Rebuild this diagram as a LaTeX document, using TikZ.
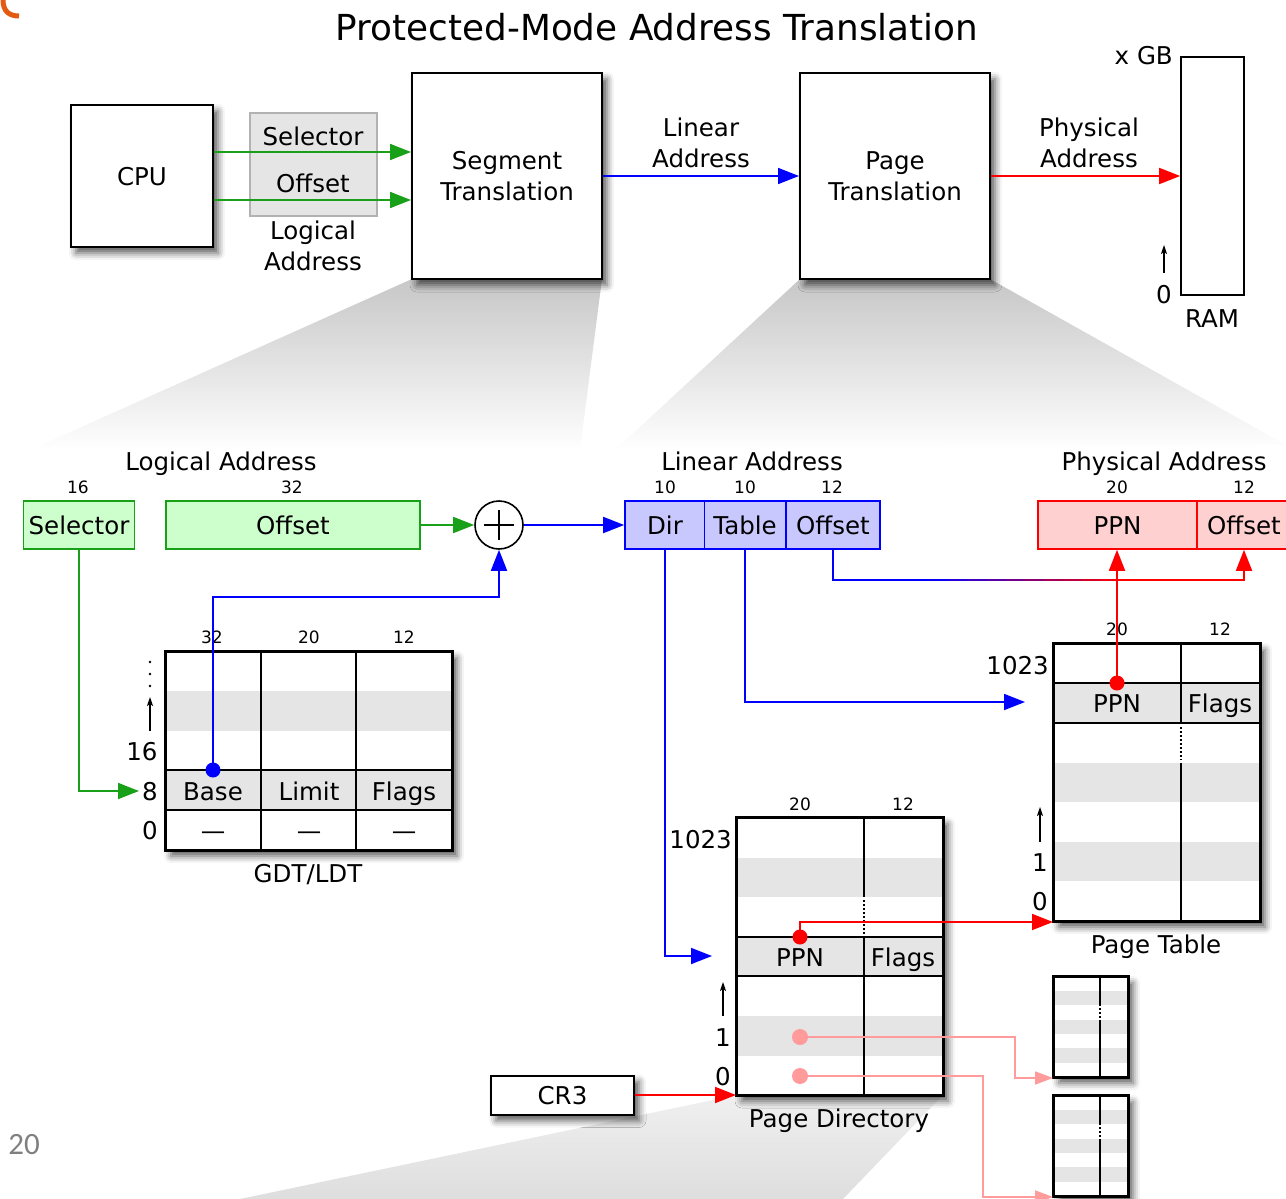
\documentclass[tikz,border=0pt]{standalone}
\usepackage{fontspec}
\setmainfont{DejaVu Sans}
\newfontfamily\pgnumfont{Carlito}
\usetikzlibrary{arrows.meta,shadows.blur}
\definecolor{grn}{RGB}{25,160,25}
\definecolor{gfill}{RGB}{204,255,204}
\definecolor{bfill}{RGB}{200,200,255}
\definecolor{rfill}{RGB}{255,208,208}
\definecolor{pinkc}{RGB}{255,155,155}
\definecolor{band}{RGB}{229,229,229}
\definecolor{orng}{RGB}{228,90,16}
\begin{document}
\begin{tikzpicture}[x=1pt,y=-1pt,
  big/.style={font=\fontsize{24.5}{31}\selectfont, inner sep=0pt},
  one/.style={text height=18pt, text depth=0pt},
  small/.style={font=\fontsize{17}{20}\selectfont, inner sep=0pt, text height=12.4pt, text depth=0pt},
  shad/.style={blur shadow={shadow xshift=5pt, shadow yshift=-6pt, shadow blur radius=7pt, shadow opacity=65}},
  mbox/.style={draw=black, line width=2pt, fill=white, shad, big, align=center},
  arr/.style={line width=1.8pt, -{Triangle[length=21pt,width=16pt]}},
  sarr/.style={line width=1.8pt, -{Triangle[length=18pt,width=13pt]}},
  idx/.style={line width=1.3pt, -{Stealth[length=9pt,width=6pt,inset=2pt]}},
  field/.style={line width=1.6pt, minimum height=48pt, big, one},
  tline/.style={line width=2pt},
  dline/.style={line width=1.4pt, dash pattern=on 1.5pt off 2.5pt},
]
\useasboundingbox (0,0) rectangle (1286,1199);
% ---------- zoom funnels ----------
\shade[top color=black!22, bottom color=white] (412,279) -- (602,279) -- (580,450) -- (30,450) -- cycle;
\shade[top color=black!22, bottom color=white] (800,279) -- (990,279) -- (1286,445) -- (615,450) -- cycle;
\shade[top color=black!6, bottom color=black!13] (737,1095) -- (942,1096) -- (843,1199) -- (240,1199) -- cycle;
% ---------- slide remnants ----------
\draw[orng, line width=5pt] (3,0) .. controls (3,12) and (10,16) .. (19,16);
\node[font=\pgnumfont\fontsize{31}{36}\selectfont, text=black!50, inner sep=0pt] (pnum) at (24,1145) {20};
% ---------- top row ----------
\node[font=\fontsize{35.8}{40}\selectfont, inner sep=0pt] (title) at (657,27) {Protected-Mode Address Translation};
\node[mbox, one, minimum width=142pt, minimum height=142pt] (cpu) at (142,176) {CPU};
\node[draw=black!30, fill=band, line width=1.5pt, minimum width=127pt, minimum height=103pt] (labox) at (313.5,164.5) {};
\node[big, one] (lsel) at (313,136) {Selector};
\node[big, one] (loff) at (313,183) {Offset};
\node[big, align=center] (llog) at (313,246) {Logical\\Address};
\node[mbox, minimum width=190pt, minimum height=206pt] (seg) at (507,176) {Segment\\Translation};
\node[mbox, minimum width=190pt, minimum height=206pt] (pgt) at (895,176) {Page\\Translation};
\node[draw, line width=1.6pt, minimum width=63pt, minimum height=238pt] (ram) at (1212.5,176) {};
\draw[arr, grn] (cpu.east |- 0,152) -- (seg.west |- 0,152);
\draw[arr, grn] (cpu.east |- 0,200) -- (seg.west |- 0,200);
\draw[arr, blue] (seg.east) -- (pgt.west);
\draw[arr, red] (pgt.east) -- (ram.west);
\node[big, align=center] (linlab) at (701,143) {Linear\\Address};
\node[big, align=center] (phylab) at (1089,143) {Physical\\Address};
\node[big, one, anchor=east] (xgb) at (1173,56) {x GB};
\node[big, one] (ram0) at (1164,294) {0};
\draw[idx] (ram0.north |- 0,273) -- (ram0.north |- 0,245);
\node[big, one] (ramlab) at (1212,318) {RAM};
% ---------- address fields ----------
\node[big, one] (lalab) at (221,461) {Logical Address};
\node[small] (s16) at (78,487) {16};
\node[small] (s32) at (292,487) {32};
\node[field, draw=grn, fill=gfill, minimum width=111pt] (sel) at (79,525) {Selector};
\node[field, draw=grn, fill=gfill, minimum width=254pt] (off) at (293,525) {Offset};
\node[circle, draw, line width=1.6pt, minimum size=48pt, fill=white] (plus) at (499,525) {};
\draw[line width=1.3pt] (plus.center) +(-15,0) -- +(15,0) (plus.center) +(0,-15) -- +(0,15);

\node[big, one] (linlab2) at (752,461) {Linear Address};
\node[small] (s10a) at (665,487) {10};
\node[small] (s10b) at (745,487) {10};
\node[small] (s12a) at (832,487) {12};
\node[field, draw=blue, fill=bfill, minimum width=80pt] (dir) at (665,525) {Dir};
\node[field, draw=blue, fill=bfill, minimum width=81pt] (tab) at (745,525) {Table};
\node[field, draw=blue, fill=bfill, minimum width=94pt] (loffs) at (833,525) {Offset};

\node[big, one] (phylab2) at (1164,461) {Physical Address};
\node[small] (s20a) at (1117,487) {20};
\node[small] (s12b) at (1244,487) {12};
\node[field, draw=red, fill=rfill, minimum width=159pt] (ppn) at (1117.5,525) {PPN};
\node[field, draw=red, fill=rfill, minimum width=94pt] (poff) at (1244,525) {Offset};

\draw[arr, grn] (off.east) -- (plus.west);
\draw[arr, blue] (plus.east) -- (dir.west);

% ---------- GDT/LDT ----------
\node[draw, line width=2pt, fill=white, shad, minimum width=286pt, minimum height=198pt] (gdt) at (309,751) {};
\fill[band] (167,691) rectangle (451,731);
\fill[band] (167,770) rectangle (451,810);
\draw[tline] (261,652) -- (261,850) (356,652) -- (356,850) (166,770) -- (452,770) (166,810) -- (452,810);
\draw[tline] (gdt.north west) rectangle (gdt.south east);
\node[small] (g32) at (212,637) {32};
\node[small] (g20) at (309,637) {20};
\node[small] (g12) at (404,637) {12};
\node[big, one] (gbase) at (213,791) {Base};
\node[big, one] (glim) at (309,791) {Limit};
\node[big, one] (gflag) at (404,791) {Flags};
\node[big, one] (gd1) at (213,830) {—};
\node[big, one] (gd2) at (309,830) {—};
\node[big, one] (gd3) at (404,830) {—};
\fill (150,662) circle (1.3pt) (150,674) circle (1.3pt) (150,686) circle (1.3pt);
\node[big, one] (g16) at (142,751) {16};
\node[big, one] (g8) at (150,791) {8};
\node[big, one] (g0) at (150,830) {0};
\draw[idx] (g8.north |- 0,731) -- (g8.north |- 0,697);
\node[big, one] (gdtlab) at (308,873) {GDT/LDT};
\draw[arr, grn, shorten >=3pt] (sel.south) |- (g8.west);
\coordinate (bdot) at (213,770);
\draw[arr, blue] (bdot) -- (bdot |- 0,597) -| (plus.south);
\fill[blue] (bdot) circle (7.5pt);

% ---------- Page Table ----------
\node[draw, line width=2pt, fill=white, shad, minimum width=206pt, minimum height=277pt] (pt) at (1157,782.5) {};
\fill[band] (1055,683) rectangle (1259,723);
\fill[band] (1055,763) rectangle (1259,802);
\fill[band] (1055,842) rectangle (1259,881);
\draw[tline] (1054,683) -- (1260,683) (1054,723) -- (1260,723) (1181,644) -- (1181,723) (1181,763) -- (1181,921);
\draw[dline] (1181,727) -- (1181,760);
\draw[tline] (pt.north west) rectangle (pt.south east);
\node[small] (p20) at (1117,629) {20};
\node[small] (p12) at (1220,629) {12};
\node[big, one] (pppn) at (1117,703) {PPN};
\node[big, one] (pflag) at (1220,703) {Flags};
\node[big, one, anchor=east] (p1023) at (1049,665) {1023};
\node[big, one] (p1) at (1040,862) {1};
\node[big, one] (p0) at (1040,901) {0};
\draw[idx] (p1.north |- 0,842) -- (p1.north |- 0,807);
\node[big, one] (ptlab) at (1156,944) {Page Table};

% ---------- Page Directory ----------
\node[draw, line width=2pt, fill=white, shad, minimum width=206pt, minimum height=277pt] (pd) at (840,956.5) {};
\fill[band] (738,858) rectangle (942,897);
\fill[band] (738,937) rectangle (942,976);
\fill[band] (738,1016) rectangle (942,1056);
\draw[tline] (737,937) -- (943,937) (737,976) -- (943,976) (864,818) -- (864,897) (864,937) -- (864,1095);
\draw[dline] (864,900) -- (864,934);
\draw[tline] (pd.north west) rectangle (pd.south east);
\node[small] (d20) at (800,804) {20};
\node[small] (d12) at (903,804) {12};
\node[big, one] (dppn) at (800,957) {PPN};
\node[big, one] (dflag) at (903,957) {Flags};
\node[big, one, anchor=east] (d1023) at (732,839) {1023};
\node[big, one] (d1) at (723,1037) {1};
\node[big, one] (d0) at (723,1076) {0};
\draw[idx] (d1.north |- 0,1016) -- (d1.north |- 0,982);
\node[big, one] (pdlab) at (839,1118) {Page Directory};

% ---------- small page tables ----------
\foreach \n/\o in {st1/0, st2/119} {
  \node[draw, line width=2pt, fill=white, shad, minimum width=74pt, minimum height=100pt] (\n) at (1091,1027+\o) {};
  \fill[band] (1055,991+\o) rectangle (1127,1005+\o);
  \fill[band] (1055,1020+\o) rectangle (1127,1034+\o);
  \fill[band] (1055,1048+\o) rectangle (1127,1063+\o);
  \draw[tline] (1100,977+\o) -- (1100,1006+\o) (1100,1020+\o) -- (1100,1077+\o);
  \draw[dline] (1100,1008+\o) -- (1100,1018+\o);
  \draw[tline] (\n.north west) rectangle (\n.south east);
}

% ---------- CR3 ----------
\node[mbox, one, minimum width=143pt, minimum height=39pt] (cr3) at (562.5,1095) {CR3};
\draw[arr, red] (cr3.east) -- (cr3.east -| pd.south west);

% ---------- connectors of the paging walk ----------
\coordinate (pdin) at (712,956);
\coordinate (ptin) at (1025,702);
\draw[arr, blue] (dir.south) |- (pdin);
\draw[arr, blue] (tab.south) |- (ptin);
\coordinate (oc) at (loffs.south |- 0,580);
\draw[line width=1.8pt, blue] (loffs.south) -- (oc) -- (931,580);
\foreach \i in {0,...,9} {
  \pgfmathsetmacro\p{(\i+0.5)*10}
  \draw[line width=1.8pt, red!\p!blue] ({930+19*\i},580) -- ({950+19*\i},580);
}
\draw[arr, red] (1119,580) -| (poff.south);

\coordinate (pddot) at (800,937);
\draw[arr, red] (pddot) |- (pt.south west);
\fill[red] (pddot) circle (7.5pt);
\coordinate (ptdot) at (1117,683);
\draw[arr, red] (ptdot) -- (ptdot |- ppn.south);
\fill[red] (ptdot) circle (7.5pt);

\coordinate (pk1) at (800,1037);
\coordinate (pk2) at (800,1076);
\draw[sarr, pinkc] (pk1) -- (1015,1037) |- (st1.south west);
\draw[sarr, pinkc] (pk2) -- (983,1076) |- (st2.south west);
\fill[pinkc] (pk1) circle (8pt);
\fill[pinkc] (pk2) circle (8pt);
\end{tikzpicture}
\end{document}
